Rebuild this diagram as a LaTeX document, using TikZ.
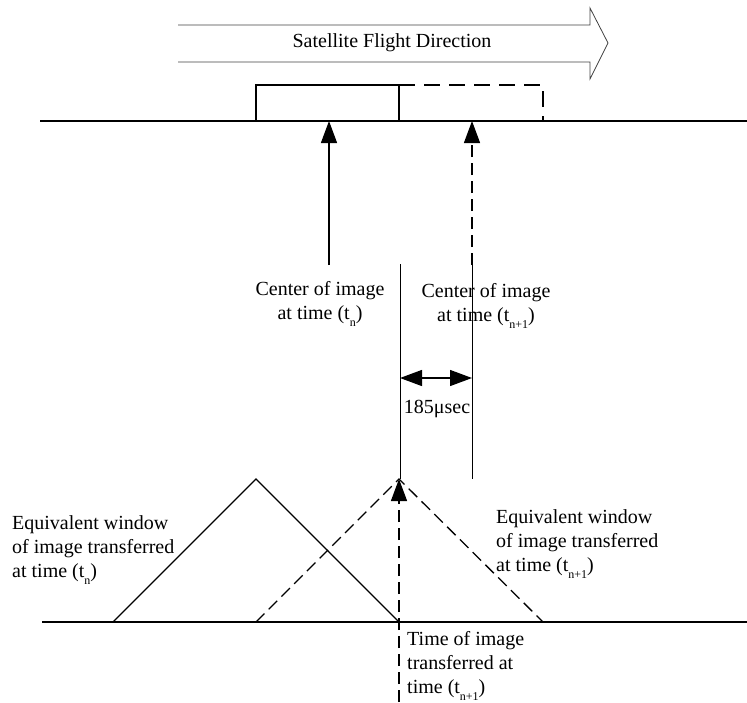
\documentclass[tikz,border=0pt]{standalone}
\usepackage{fontspec}
\setmainfont{Liberation Serif}
\usetikzlibrary{arrows.meta}
% lowered small subscript, as in the time labels
\newcommand\lowsub[1]{\raisebox{-0.35em}{\fontsize{12}{12}\selectfont #1}}
\begin{document}
\begin{tikzpicture}[x=1pt,y=-1pt,
  every node/.style={font=\fontsize{20}{24}\selectfont, inner sep=0pt},
  axisline/.style={line width=1.5pt},
  edgeline/.style={line width=1.3pt},
  hairline/.style={line width=0.9pt},
  longdash/.style={dash pattern=on 12pt off 6pt},
  uptip/.style={-{Triangle[length=22pt,width=16pt]}},
  bothtips/.style={{Triangle[length=22pt,width=16pt]}-{Triangle[length=22pt,width=16pt]}},
  lbl/.style={align=left, anchor=base west},
  clbl/.style={align=center, anchor=base}]
\useasboundingbox (0,0) rectangle (747,702);

% flight direction block arrow
\draw[line width=0.8pt, draw=black!75] (178,25) -- (590,25) -- (590,8) -- (608,43)
  -- (590,79) -- (590,62) -- (178,62);
\node (flight) at (392,43) {Satellite Flight Direction};

% image footprint line with the two image windows
\coordinate (topL) at (40,121);
\coordinate (topR) at (747,121);
\draw[axisline] (topL) -- (topR);
\draw[edgeline] (256,121) -- (256,85) -- (399,85) -- (399,121);
\draw[edgeline, dash pattern=on 16pt off 9pt] (399,85) -- (543,85) -- (543,121);

% image centres
\coordinate (cnA) at (329,265);
\coordinate (cnAtop) at (329,121);
\coordinate (cnB) at (472,265);
\coordinate (cnBtop) at (472,121);
\draw[edgeline, uptip] (cnA) -- (cnAtop);
\draw[edgeline, longdash, uptip] (cnB) -- (cnBtop);

% (anchor=base sits on the last line of a multi-line label)
\node[clbl] (centA) at (320,319) {Center of image\\at time (t\lowsub{n})};
\node[clbl] (centB) at (486,321) {Center of image\\at time (t\lowsub{n+1})};

% reference lines and the 185 microsecond offset
\coordinate (refA) at (400,264);
\coordinate (refAbot) at (400,479);
\coordinate (refB) at (472,264);
\coordinate (refBbot) at (472,479);
\draw[hairline] (refA) -- (refAbot);
\draw[hairline] (refB) -- (refBbot);
\coordinate (dimA) at (400,378);
\coordinate (dimB) at (472,378);
\draw[edgeline, bothtips] (dimA) -- (dimB);
\node[clbl] (delay) at (437,413) {185μsec};

% time axis with the two equivalent windows
\coordinate (botL) at (42,622);
\coordinate (botR) at (747,622);
\draw[axisline] (botL) -- (botR);
\coordinate (winAl) at (113,622);
\coordinate (winAp) at (256,479);
\coordinate (winAr) at (399,622);
\coordinate (winBl) at (256,622);
\coordinate (winBp) at (399,479);
\coordinate (winBr) at (543,622);
\draw[edgeline] (winAl) -- (winAp) -- (winAr);
\draw[edgeline, longdash] (winBl) -- (winBp) -- (winBr);

% transfer instant
\coordinate (xfer) at (399,702);
\draw[edgeline, longdash, uptip] (xfer) -- (winBp);

\node[lbl] (eqA) at (12,577) {Equivalent window\\of image transferred\\at time (t\lowsub{n})};
\node[lbl] (eqB) at (496,571) {Equivalent window\\of image transferred\\at time (t\lowsub{n+1})};
\node[lbl] (xferlbl) at (407,693) {Time of image\\transferred at\\time (t\lowsub{n+1})};
\end{tikzpicture}
\end{document}
